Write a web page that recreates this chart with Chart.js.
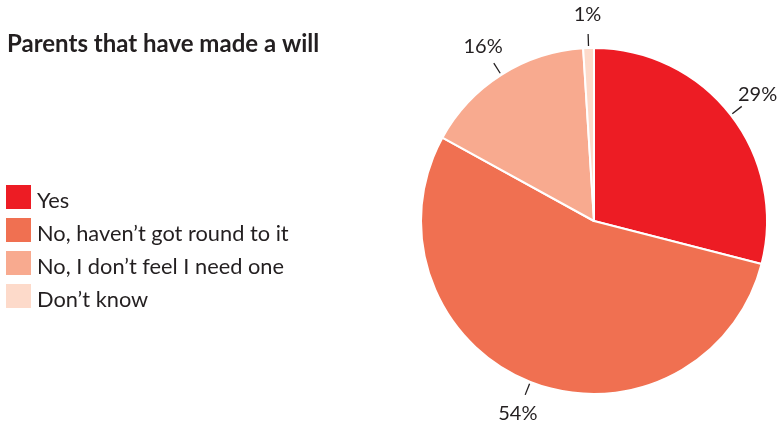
<!DOCTYPE html>
<html>
<head>
<meta charset="utf-8">
<script src="https://cdn.jsdelivr.net/npm/chart.js@4/dist/chart.umd.min.js"></script>
<style>
  html, body { margin: 0; padding: 0; background: #fff; }
  #wrap { width: 778px; height: 422px; position: relative; }
</style>
</head>
<body>
<div id="wrap"><canvas id="willChart" width="778" height="422"></canvas></div>
<script>
const chartTitle = "Parents that have made a will";
const categories = ["Yes", "No, haven\u2019t got round to it", "No, I don\u2019t feel I need one", "Don\u2019t know"];
const values = [29, 54, 16, 1];
const sliceColors = ["#ED1C24", "#F07051", "#F8AA8F", "#FDDACA"];

const textColor = "#231F20";
const fontFamily = "Lato, 'Open Sans', sans-serif";

// title + legend on the left, drawn on the canvas
const sideLegend = {
  id: 'sideLegend',
  afterDraw(chart) {
    const ctx = chart.ctx;
    ctx.save();
    ctx.fillStyle = textColor;
    ctx.font = "bold 24px " + fontFamily;
    ctx.textBaseline = "alphabetic";
    ctx.textAlign = "left";
    ctx.fillText(chartTitle, 7, 52);

    ctx.font = "21.8px " + fontFamily;
    categories.forEach((c, i) => {
      const y = 185 + i * 33;
      ctx.fillStyle = sliceColors[i];
      ctx.fillRect(6, y, 25, 24);
      ctx.fillStyle = textColor;
      ctx.fillText(c, 37, y + 23);
    });
    ctx.restore();
  }
};

// percentage labels with short leader lines
const outLabels = {
  id: 'outLabels',
  afterDatasetsDraw(chart) {
    const ctx = chart.ctx;
    const meta = chart.getDatasetMeta(0);
    ctx.save();
    ctx.strokeStyle = textColor;
    ctx.lineWidth = 1.3;
    ctx.fillStyle = textColor;
    ctx.font = "20px " + fontFamily;
    ctx.textAlign = "center";
    ctx.textBaseline = "middle";
    meta.data.forEach((arc, i) => {
      const p = arc.getProps(['x', 'y', 'startAngle', 'endAngle', 'outerRadius'], true);
      const a = (p.startAngle + p.endAngle) / 2;
      const cos = Math.cos(a), sin = Math.sin(a);
      ctx.beginPath();
      ctx.moveTo(p.x + cos * (p.outerRadius + 2), p.y + sin * (p.outerRadius + 2));
      ctx.lineTo(p.x + cos * (p.outerRadius + 14), p.y + sin * (p.outerRadius + 14));
      ctx.stroke();
      const r = p.outerRadius + 34;
      ctx.fillText(values[i] + "%", p.x + cos * r, p.y + sin * r);
    });
    ctx.restore();
  }
};

new Chart(document.getElementById('willChart'), {
  type: 'pie',
  data: {
    labels: categories,
    datasets: [{
      data: values,
      backgroundColor: sliceColors,
      borderColor: "#ffffff",
      borderWidth: 2
    }]
  },
  options: {
    responsive: false,
    animation: false,
    layout: { padding: { left: 420, right: 10, top: 47, bottom: 27 } },
    plugins: {
      legend: { display: false },
      tooltip: { enabled: false }
    }
  },
  plugins: [sideLegend, outLabels]
});
</script>
</body>
</html>
